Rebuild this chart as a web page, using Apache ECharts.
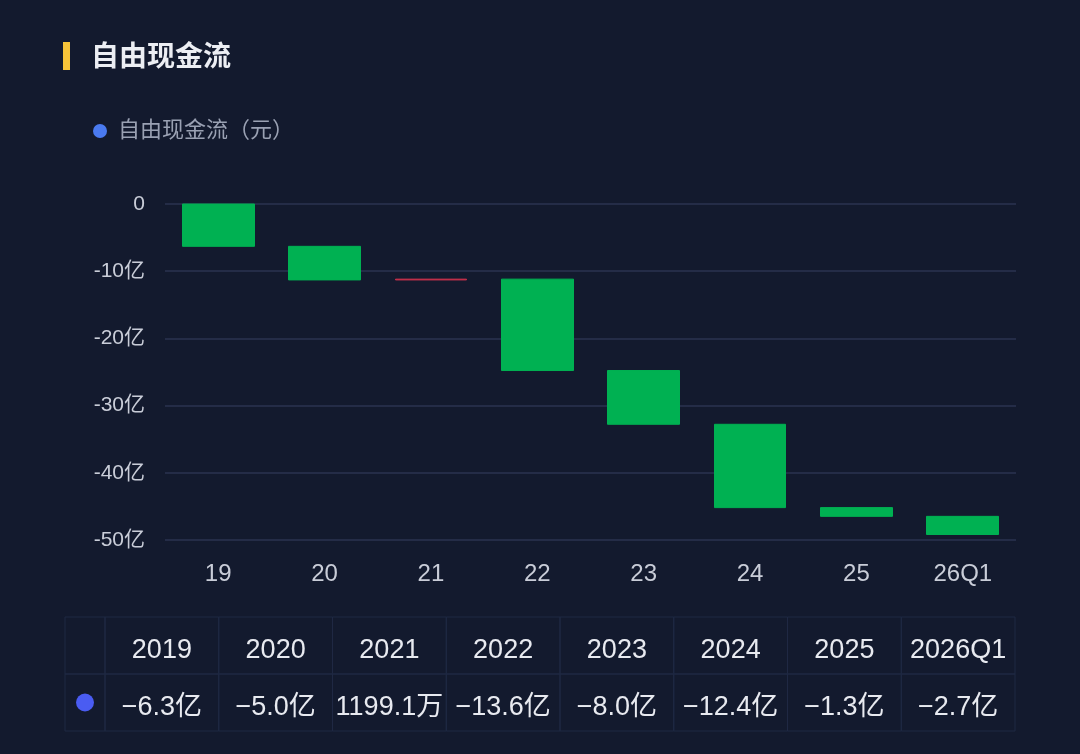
<!DOCTYPE html>
<html>
<head>
<meta charset="utf-8">
<script src="https://cdn.jsdelivr.net/npm/echarts@6/dist/echarts.min.js"></script>
<style>
html,body{margin:0;padding:0;background:#131a2e;}
#c{width:1080px;height:754px;}
</style>
</head>
<body>
<div id="c"></div>
<script>
// Data (unit: 亿元)
const categories = ['19', '20', '21', '22', '23', '24', '25', '26Q1'];
const periods = ['2019', '2020', '2021', '2022', '2023', '2024', '2025', '2026Q1'];
const values = [-6.3, -5.0, 0.11991, -13.6, -8.0, -12.4, -1.3, -2.7];
const yTicks = [0, -10, -20, -30, -40, -50];

const FONT = '"Liberation Sans", "Noto Sans CJK SC", sans-serif';

// Waterfall as candlestick: [open, close, lowest, highest]
let cum = 0;
const candles = values.map(v => {
  const open = cum;
  const close = cum + v;
  cum = close;
  return [open, close, Math.min(open, close), Math.max(open, close)];
});

function fmt(v) {
  if (Math.abs(v) < 1) return (v * 10000).toFixed(1) + '万';
  return (v < 0 ? '−' : '') + Math.abs(v).toFixed(1) + '亿';
}

// Table graphics
const tLeft = 65, tRight = 1015, tTop = 617, rowH = 57, firstW = 40;
const colW = (tRight - tLeft - firstW) / periods.length;
const border = '#1f2843';
const graphics = [];
// title bar
graphics.push({type: 'rect', shape: {x: 63, y: 42, width: 7, height: 28}, style: {fill: '#f7c439'}});
graphics.push({type: 'text', x: 91, y: 58, style: {text: '自由现金流', fill: '#eceef3', font: 'bold 28px ' + FONT, textVerticalAlign: 'middle'}});
// table cells
for (let r = 0; r < 2; r++) {
  graphics.push({type: 'rect', shape: {x: tLeft, y: tTop + r * rowH, width: firstW, height: rowH}, style: {fill: 'none', stroke: border, lineWidth: 1}});
  for (let c = 0; c < periods.length; c++) {
    graphics.push({type: 'rect', shape: {x: tLeft + firstW + c * colW, y: tTop + r * rowH, width: colW, height: rowH}, style: {fill: 'none', stroke: border, lineWidth: 1}});
  }
}
graphics.push({type: 'circle', shape: {cx: tLeft + firstW / 2, cy: tTop + rowH * 1.5, r: 9}, style: {fill: '#4a5cf2'}});
periods.forEach((p, c) => {
  const cx = tLeft + firstW + c * colW + colW / 2;
  graphics.push({type: 'text', x: cx, y: tTop + rowH / 2 + 5, style: {text: p, fill: '#e8eaf0', font: '27px ' + FONT, textAlign: 'center', textVerticalAlign: 'middle'}});
  graphics.push({type: 'text', x: cx, y: tTop + rowH * 1.5 + 5, style: {text: fmt(values[c]), fill: '#e8eaf0', font: '27px ' + FONT, textAlign: 'center', textVerticalAlign: 'middle'}});
});

const chart = echarts.init(document.getElementById('c'));
chart.setOption({
  backgroundColor: '#131a2e',
  animation: false,
  textStyle: {fontFamily: FONT},
  legend: {
    left: 88, top: 115,
    icon: 'circle', itemWidth: 14, itemHeight: 14, itemGap: 10,
    textStyle: {color: '#9aa1b3', fontSize: 22, fontFamily: FONT, padding: [0, 0, 0, 6]},
    data: [{name: '自由现金流（元）', itemStyle: {color: '#4a7af0', borderWidth: 0, borderColor: '#4a7af0'}}]
  },
  grid: {left: 165, right: 64, top: 204, bottom: 214},
  xAxis: {
    type: 'category',
    data: categories,
    axisLine: {show: false},
    axisTick: {show: false},
    axisLabel: {color: '#c9cdd8', fontSize: 24, margin: 22, fontFamily: FONT}
  },
  yAxis: {
    type: 'value',
    min: -50, max: 0, interval: 10,
    axisLine: {show: false},
    axisTick: {show: false},
    splitLine: {lineStyle: {color: '#242c47', width: 2}},
    axisLabel: {
      color: '#c9cdd8', fontSize: 21, margin: 20, fontFamily: FONT,
      formatter: v => (yTicks.indexOf(v) >= 0 ? (v === 0 ? '0' : v + '亿') : '')
    }
  },
  series: [{
    name: '自由现金流（元）',
    type: 'candlestick',
    data: candles,
    barWidth: '68%',
    itemStyle: {
      color: '#c8304c', color0: '#00b152',
      borderColor: '#c8304c', borderColor0: '#00b152',
      borderWidth: 1
    }
  }],
  graphic: graphics
});
</script>
</body>
</html>
